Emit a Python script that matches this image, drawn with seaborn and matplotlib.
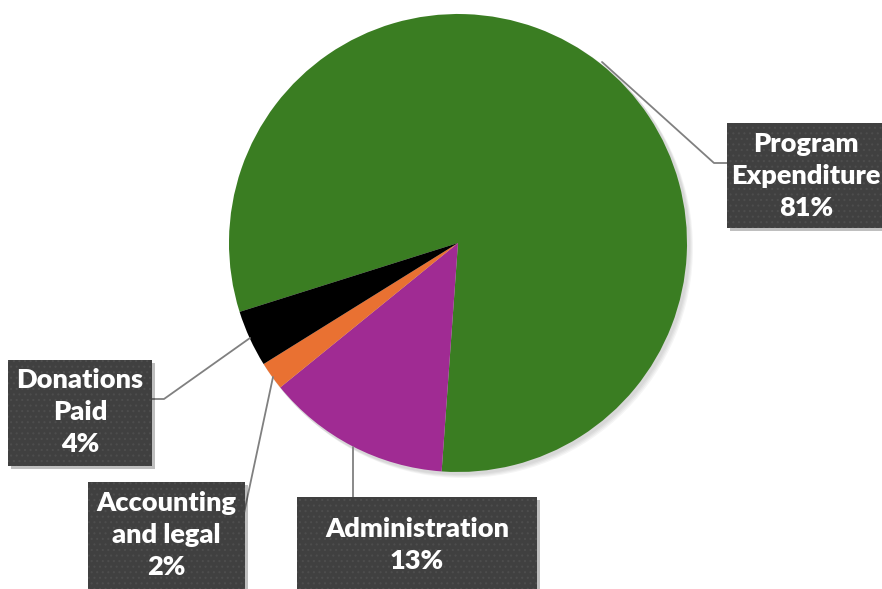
import matplotlib
matplotlib.use("Agg")
import matplotlib.pyplot as plt
import seaborn as sns
from matplotlib.patches import Rectangle, Circle

categories = ["Program\nExpenditure", "Administration", "Accounting\nand legal", "Donations\nPaid"]
values = [81, 13, 2, 4]
colors = ["#3A7D22", "#A02B93", "#E97132", "#000000"]

sns.set_theme(style="white")
plt.rcParams['font.family'] = ['Lato', 'DejaVu Sans']
plt.rcParams['hatch.linewidth'] = 0.8

W, H = 882, 589
fig = plt.figure(figsize=(W / 100, H / 100), dpi=100)
ax = fig.add_axes([0, 0, 1, 1])
ax.set_xlim(0, W)
ax.set_ylim(0, H)
ax.set_aspect("equal")
ax.axis("off")

def Y(y):
    return H - y

cx, cy, r = 458, 243, 229

# soft shadow
for i in range(4):
    ax.add_patch(Circle((cx + 2 + i, Y(cy) - 2 - i), r + 1, color="black", alpha=0.04, lw=0, zorder=1))

ax.pie(values, colors=sns.color_palette(colors), startangle=197.5, counterclock=False,
       center=(cx, Y(cy)), radius=r, frame=True,
       wedgeprops=dict(linewidth=0, zorder=2))
ax.set_xlim(0, W)
ax.set_ylim(0, H)
ax.axis("off")

line_kw = dict(color="#808080", lw=1.3, zorder=3)
# leader lines
ax.plot([602, 714, 727], [Y(62), Y(163), Y(163)], **line_kw)
ax.plot([250, 164, 152], [Y(338), Y(399), Y(399)], **line_kw)
ax.plot([273, 243], [Y(377), Y(518)], **line_kw)
ax.plot([353, 353], [Y(447), Y(497)], **line_kw)

# label boxes: (x0, y0, x1, y1), text center x, text center y
boxes = [
    ((727, 123, 884, 228), 806, 176, f"{categories[0]}\n{values[0]}%"),
    ((297, 497, 537, 592), 417, 545, f"{categories[1]}\n{values[1]}%"),
    ((88, 482, 245, 592), 166, 535, f"{categories[2]}\n{values[2]}%"),
    ((8, 360, 152, 466), 80, 412, f"{categories[3]}\n{values[3]}%"),
]
for (x0, y0, x1, y1), tx, ty, txt in boxes:
    ax.add_patch(Rectangle((x0 + 3, Y(y1) - 3), x1 - x0, y1 - y0, color="black", alpha=0.25, lw=0, zorder=4))
    ax.add_patch(Rectangle((x0, Y(y1)), x1 - x0, y1 - y0, facecolor="#404040", edgecolor="#4D4D4D",
                           hatch="...", lw=0, zorder=5))
    ax.text(tx, Y(ty), txt, ha="center", va="center", color="white", fontsize=19.5,
            fontweight="heavy", linespacing=1.42, zorder=6)

fig.savefig("out.png", dpi=100)
